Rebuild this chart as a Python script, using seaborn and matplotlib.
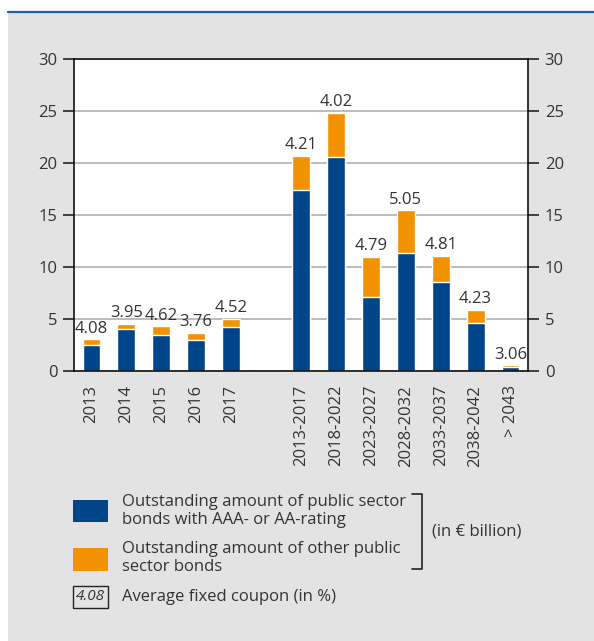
import seaborn as sns
import numpy as np
import matplotlib.pyplot as plt
import pandas as pd
from matplotlib.patches import Rectangle
from matplotlib.lines import Line2D

# values (in EUR billion), "" is the empty gap slot
categories = ["2013", "2014", "2015", "2016", "2017", "",
              "2013-2017", "2018-2022", "2023-2027", "2028-2032",
              "2033-2037", "2038-2042", "> 2043"]
aaa_aa = [2.5, 4.0, 3.5, 2.95, 4.25, 0, 17.4, 20.6, 7.1, 11.3, 8.6, 4.6, 0.35]
total = [3.05, 4.5, 4.3, 3.7, 5.0, 0, 20.65, 24.8, 10.95, 15.45, 11.05, 5.85, 0.55]
coupon = ["4.08", "3.95", "4.62", "3.76", "4.52", "",
          "4.21", "4.02", "4.79", "5.05", "4.81", "4.23", "3.06"]

blue = "#00458a"
orange = "#f39200"
txt = "#333333"

df = pd.DataFrame({"cat": categories, "aaa": aaa_aa, "total": total})

sns.set_style("white")
plt.rcParams["font.family"] = ["Open Sans", "DejaVu Sans"]

fig = plt.figure(figsize=(5.94, 6.41), dpi=100)
fig.patch.set_facecolor("white")
# grey panel and blue top rule
fig.add_artist(Rectangle((8 / 594, 0), 1, 1 - 12 / 641, transform=fig.transFigure,
                         facecolor="#e3e3e3", edgecolor="none", zorder=0))
fig.add_artist(Line2D([8 / 594, 1], [1 - 12 / 641, 1 - 12 / 641], transform=fig.transFigure,
                      color="#1f5fa8", lw=1.6))

ax = fig.add_axes([74 / 594, 1 - 371 / 641, (528 - 74) / 594, (371 - 59) / 641])
ax.set_facecolor("white")

sns.barplot(data=df, x="cat", y="total", order=categories, color=orange,
            saturation=1, width=0.51, ax=ax, errorbar=None)
sns.barplot(data=df, x="cat", y="aaa", order=categories, color=blue,
            saturation=1, width=0.51, ax=ax, errorbar=None)

fs = 12
ax.bar_label(ax.containers[0], labels=coupon, padding=2, fontsize=fs, color=txt)

ax.set_xlim(-0.5, len(categories) - 0.5)
ax.set_ylim(0, 30)
ax.set_yticks([0, 5, 10, 15, 20, 25, 30])
ax.yaxis.grid(True, color="#bcbcbc", lw=1.4)
ax.set_axisbelow(True)
ax.set_xlabel("")
ax.set_ylabel("")

for s in ax.spines.values():
    s.set_visible(True)
    s.set_color("#111111")
    s.set_linewidth(1.2)

ax.tick_params(axis="y", which="major", direction="out", length=8, width=1.1,
               color="#111111", labelsize=fs, labelcolor=txt, pad=4,
               left=True, right=True, labelleft=True, labelright=True)
ax.set_xticks(range(len(categories)))
ax.set_xticklabels(categories, rotation=90)
ax.tick_params(axis="x", which="major", length=0, labelsize=fs, labelcolor=txt, pad=10)
ax.set_xticks(np.arange(0.5, len(categories) - 1, 1), minor=True)
ax.tick_params(axis="x", which="minor", direction="in", length=8, width=1.1,
               color="#111111")

# legend
fig.add_artist(Rectangle((73 / 594, 1 - 522 / 641), 35 / 594, 22 / 641,
                         transform=fig.transFigure, facecolor=blue, edgecolor="none"))
fig.add_artist(Rectangle((73 / 594, 1 - 571 / 641), 35 / 594, 23 / 641,
                         transform=fig.transFigure, facecolor=orange, edgecolor="none"))
fig.add_artist(Rectangle((73 / 594, 1 - 608 / 641), 35 / 594, 22 / 641,
                         transform=fig.transFigure, facecolor="none", edgecolor="#222222", lw=1))
fig.text(90.5 / 594, 1 - 597 / 641, "4.08", fontsize=11, style="italic", color=txt,
         ha="center", va="center")
fig.text(122 / 594, 1 - 511 / 641, "Outstanding amount of public sector\nbonds with AAA- or AA-rating",
         fontsize=fs, color=txt, va="center", linespacing=1.2)
fig.text(122 / 594, 1 - 558 / 641, "Outstanding amount of other public\nsector bonds",
         fontsize=fs, color=txt, va="center", linespacing=1.2)
fig.text(122 / 594, 1 - 597 / 641, "Average fixed coupon (in %)",
         fontsize=fs, color=txt, va="center")
fig.add_artist(Line2D([412 / 594, 422 / 594, 422 / 594, 412 / 594],
                      [1 - 494 / 641, 1 - 494 / 641, 1 - 569 / 641, 1 - 569 / 641],
                      transform=fig.transFigure, color="#222222", lw=1.2))
fig.text(432 / 594, 1 - 532 / 641, "(in € billion)", fontsize=fs, color=txt, va="center")

fig.savefig("out.png", dpi=100)
